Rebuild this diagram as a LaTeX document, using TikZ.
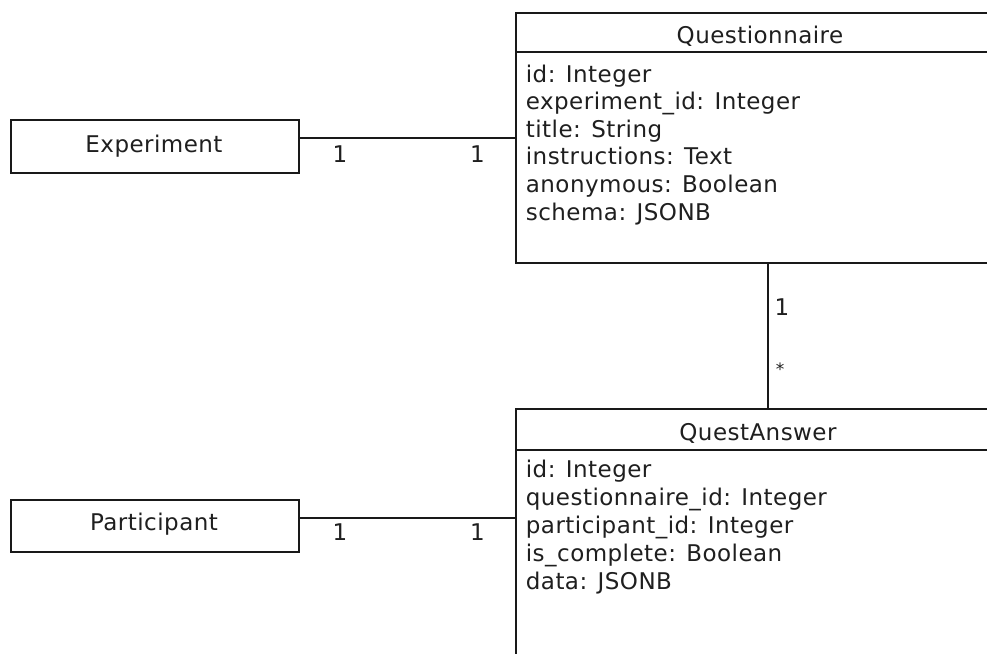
\documentclass[tikz,border=0pt]{standalone}
\usepackage{fontspec}
\setmainfont{DejaVu Sans}[LetterSpace=2]
\begin{document}
\begin{tikzpicture}[x=1pt,y=-1pt, line width=1.8pt,
  box/.style={draw=black!90, fill=white, inner sep=0pt, anchor=north west},
  txt/.style={font=\fontsize{23}{27}\selectfont, text=black!88, inner sep=0pt},
  ttl/.style={txt, anchor=base},
  attr/.style={txt, anchor=base west},
  mult/.style={txt, anchor=base},
  link/.style={draw=black!90}]
\useasboundingbox (0,0) rectangle (987,653);
\clip (0,0) rectangle (987,653);
\fill[white] (0,0) rectangle (987,653);

% Experiment
\node[box, minimum width=288pt, minimum height=53pt] (e) at (10,119) {};
\node[ttl] (etitle) at (154,152) {Experiment};

% Participant
\node[box, minimum width=288pt, minimum height=52pt] (p) at (10,499) {};
\node[ttl] (ptitle) at (154,530) {Participant};

% Questionnaire
\node[box, minimum width=490pt, minimum height=250pt] (q) at (515,12) {};
\draw[link] (q.west |- 0,52) -- (q.east |- 0,52);
\node[ttl] (qtitle) at (760,43) {Questionnaire};
\foreach \t [count=\i] in {id: Integer, experiment\_id: Integer, title: String, instructions: Text, anonymous: Boolean, schema: JSONB}
  \node[attr] (qa\i) at (525,{82+(\i-1)*27.6}) {\t};

% QuestAnswer
\node[box, minimum width=490pt, minimum height=300pt] (a) at (515,408) {};
\draw[link] (a.west |- 0,450) -- (a.east |- 0,450);
\node[ttl] (atitle) at (758,440) {QuestAnswer};
\foreach \t [count=\i] in {id: Integer, questionnaire\_id: Integer, participant\_id: Integer, is\_complete: Boolean, data: JSONB}
  \node[attr] (aa\i) at (525,{477+(\i-1)*28}) {\t};

% connectors
\draw[link] (e.east |- 0,138) -- (q.west |- 0,138);
\draw[link] (p.east |- 0,518) -- (a.west |- 0,518);
\draw[link] (q.south -| 767.7,0) -- (a.north -| 767.7,0);

% multiplicities
\node[mult] (m1) at (340,162) {1};
\node[mult] (m2) at (477.5,162) {1};
\node[mult] (m3) at (340,540) {1};
\node[mult] (m4) at (477.5,540) {1};
\node[mult] (m5) at (782,315) {1};
\node[mult, font=\fontsize{17}{20}\selectfont] (m6) at (780,375) {*};
\end{tikzpicture}
\end{document}
